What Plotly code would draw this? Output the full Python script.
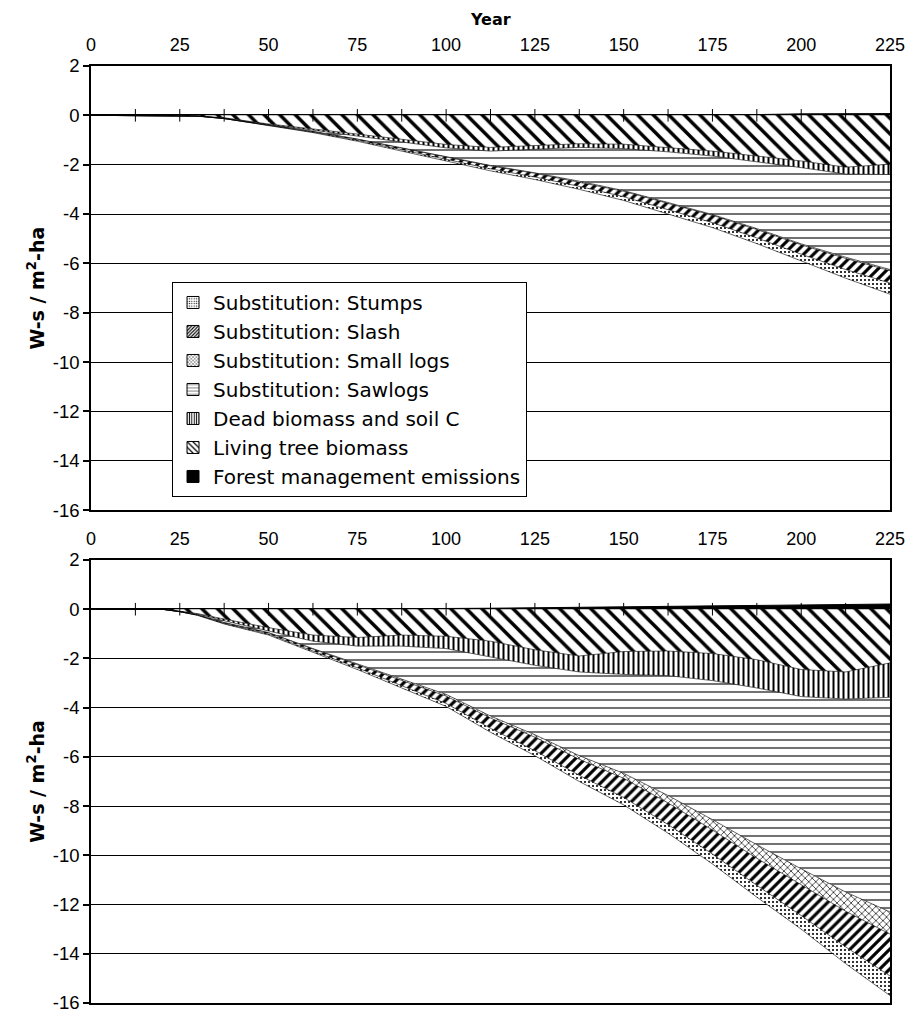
import plotly.graph_objects as go

years = [0, 12.5, 20, 25, 30, 37.5, 50, 62.5, 75, 87.5, 100, 112.5, 125, 137.5, 150, 162.5, 175, 187.5, 200, 212.5, 225]
x_ticks = [0, 25, 50, 75, 100, 125, 150, 175, 200, 225]
y_ticks = [2, 0, -2, -4, -6, -8, -10, -12, -14, -16]
zero_line_ticks = [12.5, 25, 37.5, 50, 62.5, 75, 87.5, 100, 112.5, 125, 137.5, 150, 162.5, 175, 187.5, 200, 212.5]

series_names = [
    "Forest management emissions",
    "Living tree biomass",
    "Dead biomass and soil C",
    "Substitution: Sawlogs",
    "Substitution: Small logs",
    "Substitution: Slash",
    "Substitution: Stumps",
]

# ---- top panel (layer thicknesses, W-s / m2-ha) ----
top_forest = [0, 0, 0, 0, 0, 0, 0.01, 0.01, 0.01, 0.01, 0.01, 0.02, 0.02, 0.02, 0.02, 0.02, 0.03, 0.03, 0.06, 0.07, 0.07]
top_living = [0, 0, 0, 0, -0.03, -0.1, -0.35, -0.55, -0.76, -0.95, -1.18, -1.3, -1.22, -1.15, -1.17, -1.3, -1.45, -1.65, -1.85, -2.1, -1.98]
top_dead = [0, 0, 0, 0, 0, -0.01, -0.03, -0.05, -0.09, -0.13, -0.14, -0.15, -0.15, -0.15, -0.18, -0.18, -0.2, -0.23, -0.27, -0.28, -0.42]
top_sawlogs = [0, 0, 0, 0, 0, -0.02, -0.02, -0.05, -0.11, -0.23, -0.34, -0.58, -0.96, -1.37, -1.7, -2.06, -2.37, -2.71, -3.09, -3.37, -3.85]
top_smalllogs = [0, 0, 0, 0, 0, 0, 0, -0.01, -0.01, -0.02, -0.02, -0.02, -0.02, -0.03, -0.03, -0.03, -0.03, -0.04, -0.04, -0.05, -0.05]
top_slash = [0, 0, 0, 0, 0, 0, -0.01, -0.02, -0.04, -0.07, -0.1, -0.12, -0.15, -0.18, -0.22, -0.26, -0.3, -0.34, -0.38, -0.45, -0.5]
top_stumps = [0, 0, 0, 0, 0, 0, -0.01, -0.02, -0.04, -0.05, -0.07, -0.08, -0.1, -0.12, -0.15, -0.17, -0.2, -0.23, -0.27, -0.35, -0.45]

# ---- bottom panel ----
bot_forest = [0, 0, 0, 0, 0, 0, 0.005, 0.01, 0.015, 0.02, 0.03, 0.04, 0.06, 0.06, 0.09, 0.1, 0.12, 0.15, 0.15, 0.18, 0.21]
bot_living = [0, 0, 0, -0.08, -0.18, -0.4, -0.75, -1.05, -1.15, -1.05, -1.1, -1.3, -1.65, -1.9, -1.72, -1.7, -1.8, -2.05, -2.45, -2.55, -2.18]
bot_dead = [0, 0, 0, -0.01, -0.02, -0.07, -0.13, -0.25, -0.35, -0.45, -0.5, -0.65, -0.63, -0.65, -0.93, -1.0, -1.1, -1.15, -1.1, -1.1, -1.4]
bot_sawlogs = [0, 0, 0, -0.01, -0.03, -0.07, -0.07, -0.3, -0.72, -1.36, -1.86, -2.39, -2.82, -3.4, -4.02, -4.87, -5.65, -6.37, -7.0, -7.84, -8.72]
bot_smalllogs = [0, 0, 0, 0, 0, -0.01, -0.01, -0.02, -0.04, -0.05, -0.07, -0.08, -0.1, -0.15, -0.2, -0.3, -0.42, -0.55, -0.65, -0.78, -0.9]
bot_slash = [0, 0, 0, 0, -0.01, -0.03, -0.05, -0.08, -0.12, -0.2, -0.3, -0.42, -0.55, -0.65, -0.78, -0.88, -0.98, -1.1, -1.25, -1.45, -1.7]
bot_stumps = [0, 0, 0, 0, -0.01, -0.02, -0.04, -0.05, -0.07, -0.09, -0.12, -0.16, -0.2, -0.25, -0.3, -0.35, -0.4, -0.48, -0.55, -0.68, -0.8]

FONT = "Liberation Sans, Arial, sans-serif"
WIDE = "DejaVu Sans, Liberation Sans, sans-serif"

patterns = {
    "Forest management emissions": None,
    "Living tree biomass": dict(shape="\\", size=11, solidity=0.32),
    "Dead biomass and soil C": dict(shape="|", size=5, solidity=0.4),
    "Substitution: Sawlogs": dict(shape="-", size=8, solidity=0.14),
    "Substitution: Small logs": dict(shape="x", size=5, solidity=0.25),
    "Substitution: Slash": dict(shape="/", size=7, solidity=0.45),
    "Substitution: Stumps": dict(shape=".", size=4, solidity=0.22),
}

fig = go.Figure()

panels = [
    ("x", "y", [top_forest, top_living, top_dead, top_sawlogs, top_smalllogs, top_slash, top_stumps], "top"),
    ("x2", "y2", [bot_forest, bot_living, bot_dead, bot_sawlogs, bot_smalllogs, bot_slash, bot_stumps], "bot"),
]

for xref, yref, data, tag in panels:
    for name, vals in zip(series_names, data):
        pat = patterns[name]
        if pat is None:
            fig.add_trace(go.Scatter(
                x=years, y=vals, name=name, mode="lines",
                stackgroup=tag + "pos", line=dict(color="black", width=1),
                fillcolor="black", showlegend=False,
                xaxis=xref, yaxis=yref, hoverinfo="skip"))
        else:
            fig.add_trace(go.Scatter(
                x=years, y=vals, name=name, mode="lines",
                stackgroup=tag + "neg", line=dict(color="black", width=0.6),
                fillcolor="white",
                fillpattern=dict(shape=pat["shape"], size=pat["size"], solidity=pat["solidity"],
                                 fgcolor="black", bgcolor="white", fillmode="replace"),
                showlegend=False,
                xaxis=xref, yaxis=yref, hoverinfo="skip"))
    # small tick marks along the zero line
    fig.add_trace(go.Scatter(
        x=zero_line_ticks, y=[0] * len(zero_line_ticks), mode="markers",
        marker=dict(symbol="line-ns-open", size=9, color="black", line=dict(color="black", width=1)),
        showlegend=False, hoverinfo="skip", xaxis=xref, yaxis=yref, cliponaxis=False))

# legend entries (square pattern swatches)
for name in series_names:
    pat = patterns[name]
    if pat is None:
        marker = dict(color="black", line=dict(color="black", width=1))
    else:
        marker = dict(color="white", line=dict(color="black", width=1),
                      pattern=dict(shape=pat["shape"], size=max(3, pat["size"] // 2), solidity=pat["solidity"],
                                   fgcolor="black", bgcolor="white", fillmode="replace"))
    fig.add_trace(go.Bar(x=[None], y=[None], name=name, marker=marker, showlegend=True,
                         xaxis="x", yaxis="y", hoverinfo="skip"))

top_dom = [0.5261, 1.0]
bot_dom = [0.0, 0.4728]
yr = [-16, 2]

common_x = dict(range=[0, 225], tickvals=x_ticks, side="top", showline=True, linecolor="black",
                linewidth=1.5, mirror=True, showgrid=False, zeroline=False, ticks="",
                tickfont=dict(family=FONT, size=18, color="black"), ticklabelstandoff=6)
common_y = dict(range=yr, tickvals=y_ticks, ticktext=[str(v) for v in y_ticks],
                showline=True, linecolor="black", linewidth=1.5,
                mirror=True, showgrid=True, gridcolor="black", gridwidth=1, zeroline=True,
                zerolinecolor="black", zerolinewidth=1.5, ticks="outside", ticklen=6,
                tickcolor="black", tickwidth=1.5, ticklabeloverflow="allow",
                tickfont=dict(family=FONT, size=18.5, color="black"),
                title=dict(text="<b>W-s / m<sup>2</sup>-ha</b>", font=dict(family=WIDE, size=19, color="black"),
                           standoff=3))

fig.update_layout(
    width=901, height=1015,
    margin=dict(l=83, r=19, t=58, b=20, autoexpand=False),
    paper_bgcolor="white", plot_bgcolor="white",
    font=dict(family=FONT, color="black"),
    barmode="overlay",
    xaxis=dict(common_x, anchor="y"),
    yaxis=dict(common_y, domain=top_dom, anchor="x"),
    xaxis2=dict(common_x, anchor="y2"),
    yaxis2=dict(common_y, domain=bot_dom, anchor="x2"),
    legend=dict(x=0.1014, y=0.7695, xanchor="left", yanchor="top", traceorder="reversed",
                bordercolor="black", borderwidth=1, bgcolor="white",
                font=dict(family=WIDE, size=20, color="black"), itemwidth=30,
                tracegroupgap=0),
    showlegend=True,
    annotations=[dict(text="<b>Year</b>", x=0.5, y=1 + (66 - 19) / 937, xref="paper", yref="paper",
                      showarrow=False, font=dict(family=WIDE, size=16, color="black"),
                      xanchor="center", yanchor="middle")],
)

fig.write_html("out.html")
